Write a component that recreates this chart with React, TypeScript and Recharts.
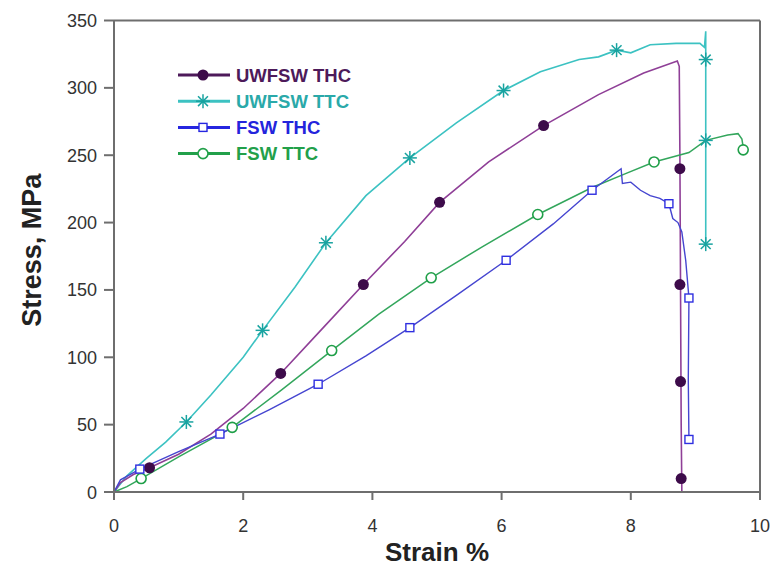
import React from "react";
import {
  ComposedChart,
  Line,
  Scatter,
  XAxis,
  YAxis,
  ReferenceLine,
  Legend,
} from "recharts";

type Pt = [number, number];

const xTicks = [0, 2, 4, 6, 8, 10];
const yTicks = [0, 50, 100, 150, 200, 250, 300, 350];

const seriesNames = ["UWFSW THC", "UWFSW TTC", "FSW THC", "FSW TTC"];

// strain %, stress MPa
const uwThcCurve: Pt[] = [
  [0, 0], [0.1, 7], [0.3, 13], [0.55, 18], [1, 28], [1.5, 43], [2, 62],
  [2.58, 88], [3.2, 120], [3.86, 154], [4.5, 186], [5.04, 215], [5.8, 245],
  [6.65, 272], [7.5, 295], [8.2, 311], [8.72, 320], [8.75, 316], [8.76, 250],
  [8.77, 150], [8.78, 50], [8.79, 0],
];
const uwThcMarks: Pt[] = [
  [0.55, 18], [2.58, 88], [3.86, 154], [5.04, 215], [6.65, 272],
  [8.76, 240], [8.76, 154], [8.77, 82], [8.78, 10],
];

const uwTtcCurve: Pt[] = [
  [0, 0], [0.2, 12], [0.5, 25], [0.8, 37], [1.12, 52], [1.5, 72], [2, 100],
  [2.3, 120], [2.8, 152], [3.28, 185], [3.9, 220], [4.58, 248], [5.3, 274],
  [6.03, 298], [6.6, 312], [7.2, 321], [7.5, 323], [7.78, 328], [8.0, 326],
  [8.3, 332], [8.7, 333], [9.07, 333], [9.14, 330], [9.16, 342], [9.16, 184],
];
const uwTtcMarks: Pt[] = [
  [1.12, 52], [2.3, 120], [3.28, 185], [4.58, 248], [6.03, 298], [7.78, 328],
  [9.16, 321], [9.16, 261], [9.16, 184],
];

const fswThcCurve: Pt[] = [
  [0, 0], [0.1, 9], [0.4, 17], [1, 30], [1.64, 43], [2.4, 61], [3.16, 80],
  [3.9, 101], [4.58, 122], [5.3, 146], [6.07, 172], [6.8, 199], [7.4, 224],
  [7.85, 240], [7.87, 229], [8.0, 230], [8.15, 224], [8.3, 220], [8.45, 218],
  [8.59, 214], [8.65, 203], [8.73, 200], [8.79, 193], [8.85, 172],
  [8.9, 144], [8.89, 83], [8.9, 39],
];
const fswThcMarks: Pt[] = [
  [0.4, 17], [1.64, 43], [3.16, 80], [4.58, 122], [6.07, 172], [7.4, 224],
  [8.59, 214], [8.9, 144], [8.9, 39],
];

const fswTtcCurve: Pt[] = [
  [0, 0], [0.2, 4], [0.42, 10], [1, 26], [1.83, 48], [2.6, 76], [3.37, 105],
  [4.1, 132], [4.91, 159], [5.7, 182], [6.56, 206], [7.4, 226], [7.9, 236],
  [8.36, 245], [8.9, 252], [9.16, 261], [9.5, 265], [9.66, 266], [9.72, 262],
  [9.74, 256],
];
const fswTtcMarks: Pt[] = [
  [0.42, 10], [1.83, 48], [3.37, 105], [4.91, 159], [6.56, 206], [8.36, 245],
  [9.74, 254],
];

const toRows = (arr: Pt[]) => arr.map(([x, y]) => ({ x, y }));

const FONT = "'Liberation Sans', Arial, sans-serif";
const AXIS = "#6e6e6e";

const C = {
  uwThcLine: "#8f3f97",
  uwThcDot: "#3d0b4a",
  uwThcText: "#4d1a5a",
  uwTtcLine: "#3cc2c2",
  uwTtcDot: "#18a3a0",
  fswThcLine: "#4545d0",
  fswThcDot: "#2f2fe0",
  fswTtcLine: "#33a65c",
  fswTtcDot: "#1f9f48",
};

const FilledCircle = ({ cx, cy, fill }: any) => (
  <circle cx={cx} cy={cy} r={5.5} fill={fill} />
);
const Star = ({ cx, cy, stroke }: any) => {
  const r = 7;
  const d = r * 0.707;
  return (
    <g stroke={stroke} strokeWidth={1.5}>
      <line x1={cx - r} y1={cy} x2={cx + r} y2={cy} />
      <line x1={cx} y1={cy - r} x2={cx} y2={cy + r} />
      <line x1={cx - d} y1={cy - d} x2={cx + d} y2={cy + d} />
      <line x1={cx - d} y1={cy + d} x2={cx + d} y2={cy - d} />
    </g>
  );
};
const OpenSquare = ({ cx, cy, stroke }: any) => (
  <rect x={cx - 4} y={cy - 4} width={8} height={8} fill="white" stroke={stroke} strokeWidth={1.4} />
);
const OpenCircle = ({ cx, cy, stroke }: any) => (
  <circle cx={cx} cy={cy} r={5} fill="white" stroke={stroke} strokeWidth={1.6} />
);

const XTick = ({ x, y, payload }: any) => (
  <text x={x} y={y} dy={29.5} textAnchor="middle" fontSize={18} fontFamily={FONT} fill="#333">
    {payload.value}
  </text>
);
const YTick = ({ x, y, payload }: any) => (
  <text x={x - 3} y={y} dy={6.5} textAnchor="end" fontSize={18} fontFamily={FONT} fill="#333">
    {payload.value}
  </text>
);

const legendRows = [
  { name: seriesNames[0], line: C.uwThcText, text: C.uwThcText, mark: "fcircle", color: C.uwThcDot },
  { name: seriesNames[1], line: C.uwTtcLine, text: "#2aa9a9", mark: "star", color: C.uwTtcDot },
  { name: seriesNames[2], line: "#2626e0", text: "#2424dc", mark: "square", color: "#2626e0" },
  { name: seriesNames[3], line: "#22a04a", text: "#22a04a", mark: "ocircle", color: "#22a04a" },
];

const LegendBox = () => (
  <svg width={200} height={110}>
    {legendRows.map((r, i) => {
      const cy = 12 + i * 26.2;
      const cx = 25;
      return (
        <g key={r.name}>
          <line x1={0} y1={cy} x2={52} y2={cy} stroke={r.line} strokeWidth={3} />
          {r.mark === "fcircle" && <FilledCircle cx={cx} cy={cy} fill={r.color} />}
          {r.mark === "star" && <Star cx={cx} cy={cy} stroke={r.color} />}
          {r.mark === "square" && <OpenSquare cx={cx} cy={cy} stroke={r.color} />}
          {r.mark === "ocircle" && <OpenCircle cx={cx} cy={cy} stroke={r.color} />}
          <text x={58} y={cy + 6.5} fontSize={18.5} fontWeight="bold" fontFamily={FONT} fill={r.text}>
            {r.name}
          </text>
        </g>
      );
    })}
  </svg>
);

export default function App() {
  return (
    <div style={{ width: 771, height: 569 }}>
      <style>{"body{margin:0;overflow:hidden}"}</style>
      <ComposedChart
        width={771}
        height={569}
        margin={{ top: 20.5, right: 11, left: 0, bottom: 0 }}
      >
        <XAxis
          type="number"
          dataKey="x"
          domain={[0, 10]}
          ticks={xTicks}
          tick={<XTick />}
          tickSize={8}
          tickMargin={2}
          height={77}
          stroke={AXIS}
          strokeWidth={2}
          label={{
            value: "Strain %",
            position: "insideBottom",
            offset: 8,
            style: { fontSize: 26, fontWeight: "bold", fontFamily: FONT, fill: "#222" },
          }}
        />
        <YAxis
          type="number"
          dataKey="y"
          domain={[0, 350]}
          ticks={yTicks}
          tick={<YTick />}
          tickSize={10}
          tickMargin={4}
          width={114}
          stroke={AXIS}
          strokeWidth={2}
          label={{
            value: "Stress, MPa",
            angle: -90,
            position: "insideLeft",
            offset: 31,
            dy: -6,
            style: { fontSize: 27, fontWeight: "bold", fontFamily: FONT, fill: "#222", textAnchor: "middle" },
          }}
        />
        <ReferenceLine y={350} stroke={AXIS} strokeWidth={2} />
        <ReferenceLine x={10} stroke={AXIS} strokeWidth={2} />

        <Line data={toRows(uwTtcCurve)} dataKey="y" type="linear" stroke={C.uwTtcLine} strokeWidth={1.6} dot={false} isAnimationActive={false} name={seriesNames[1]} />
        <Line data={toRows(uwThcCurve)} dataKey="y" type="linear" stroke={C.uwThcLine} strokeWidth={1.6} dot={false} isAnimationActive={false} name={seriesNames[0]} />
        <Line data={toRows(fswTtcCurve)} dataKey="y" type="linear" stroke={C.fswTtcLine} strokeWidth={1.5} dot={false} isAnimationActive={false} name={seriesNames[3]} />
        <Line data={toRows(fswThcCurve)} dataKey="y" type="linear" stroke={C.fswThcLine} strokeWidth={1.4} dot={false} isAnimationActive={false} name={seriesNames[2]} />

        <Scatter data={toRows(uwTtcMarks)} dataKey="y" shape={(p: any) => <Star {...p} stroke={C.uwTtcDot} />} isAnimationActive={false} />
        <Scatter data={toRows(uwThcMarks)} dataKey="y" shape={(p: any) => <FilledCircle {...p} fill={C.uwThcDot} />} isAnimationActive={false} />
        <Scatter data={toRows(fswTtcMarks)} dataKey="y" shape={(p: any) => <OpenCircle {...p} stroke={C.fswTtcDot} />} isAnimationActive={false} />
        <Scatter data={toRows(fswThcMarks)} dataKey="y" shape={(p: any) => <OpenSquare {...p} stroke={C.fswThcDot} />} isAnimationActive={false} />

        <Legend
          layout="vertical"
          align="center"
          verticalAlign="middle"
          content={<LegendBox />}
          wrapperStyle={{ position: "absolute", left: 178, top: 63, width: 200, height: 110 }}
        />
      </ComposedChart>
    </div>
  );
}
